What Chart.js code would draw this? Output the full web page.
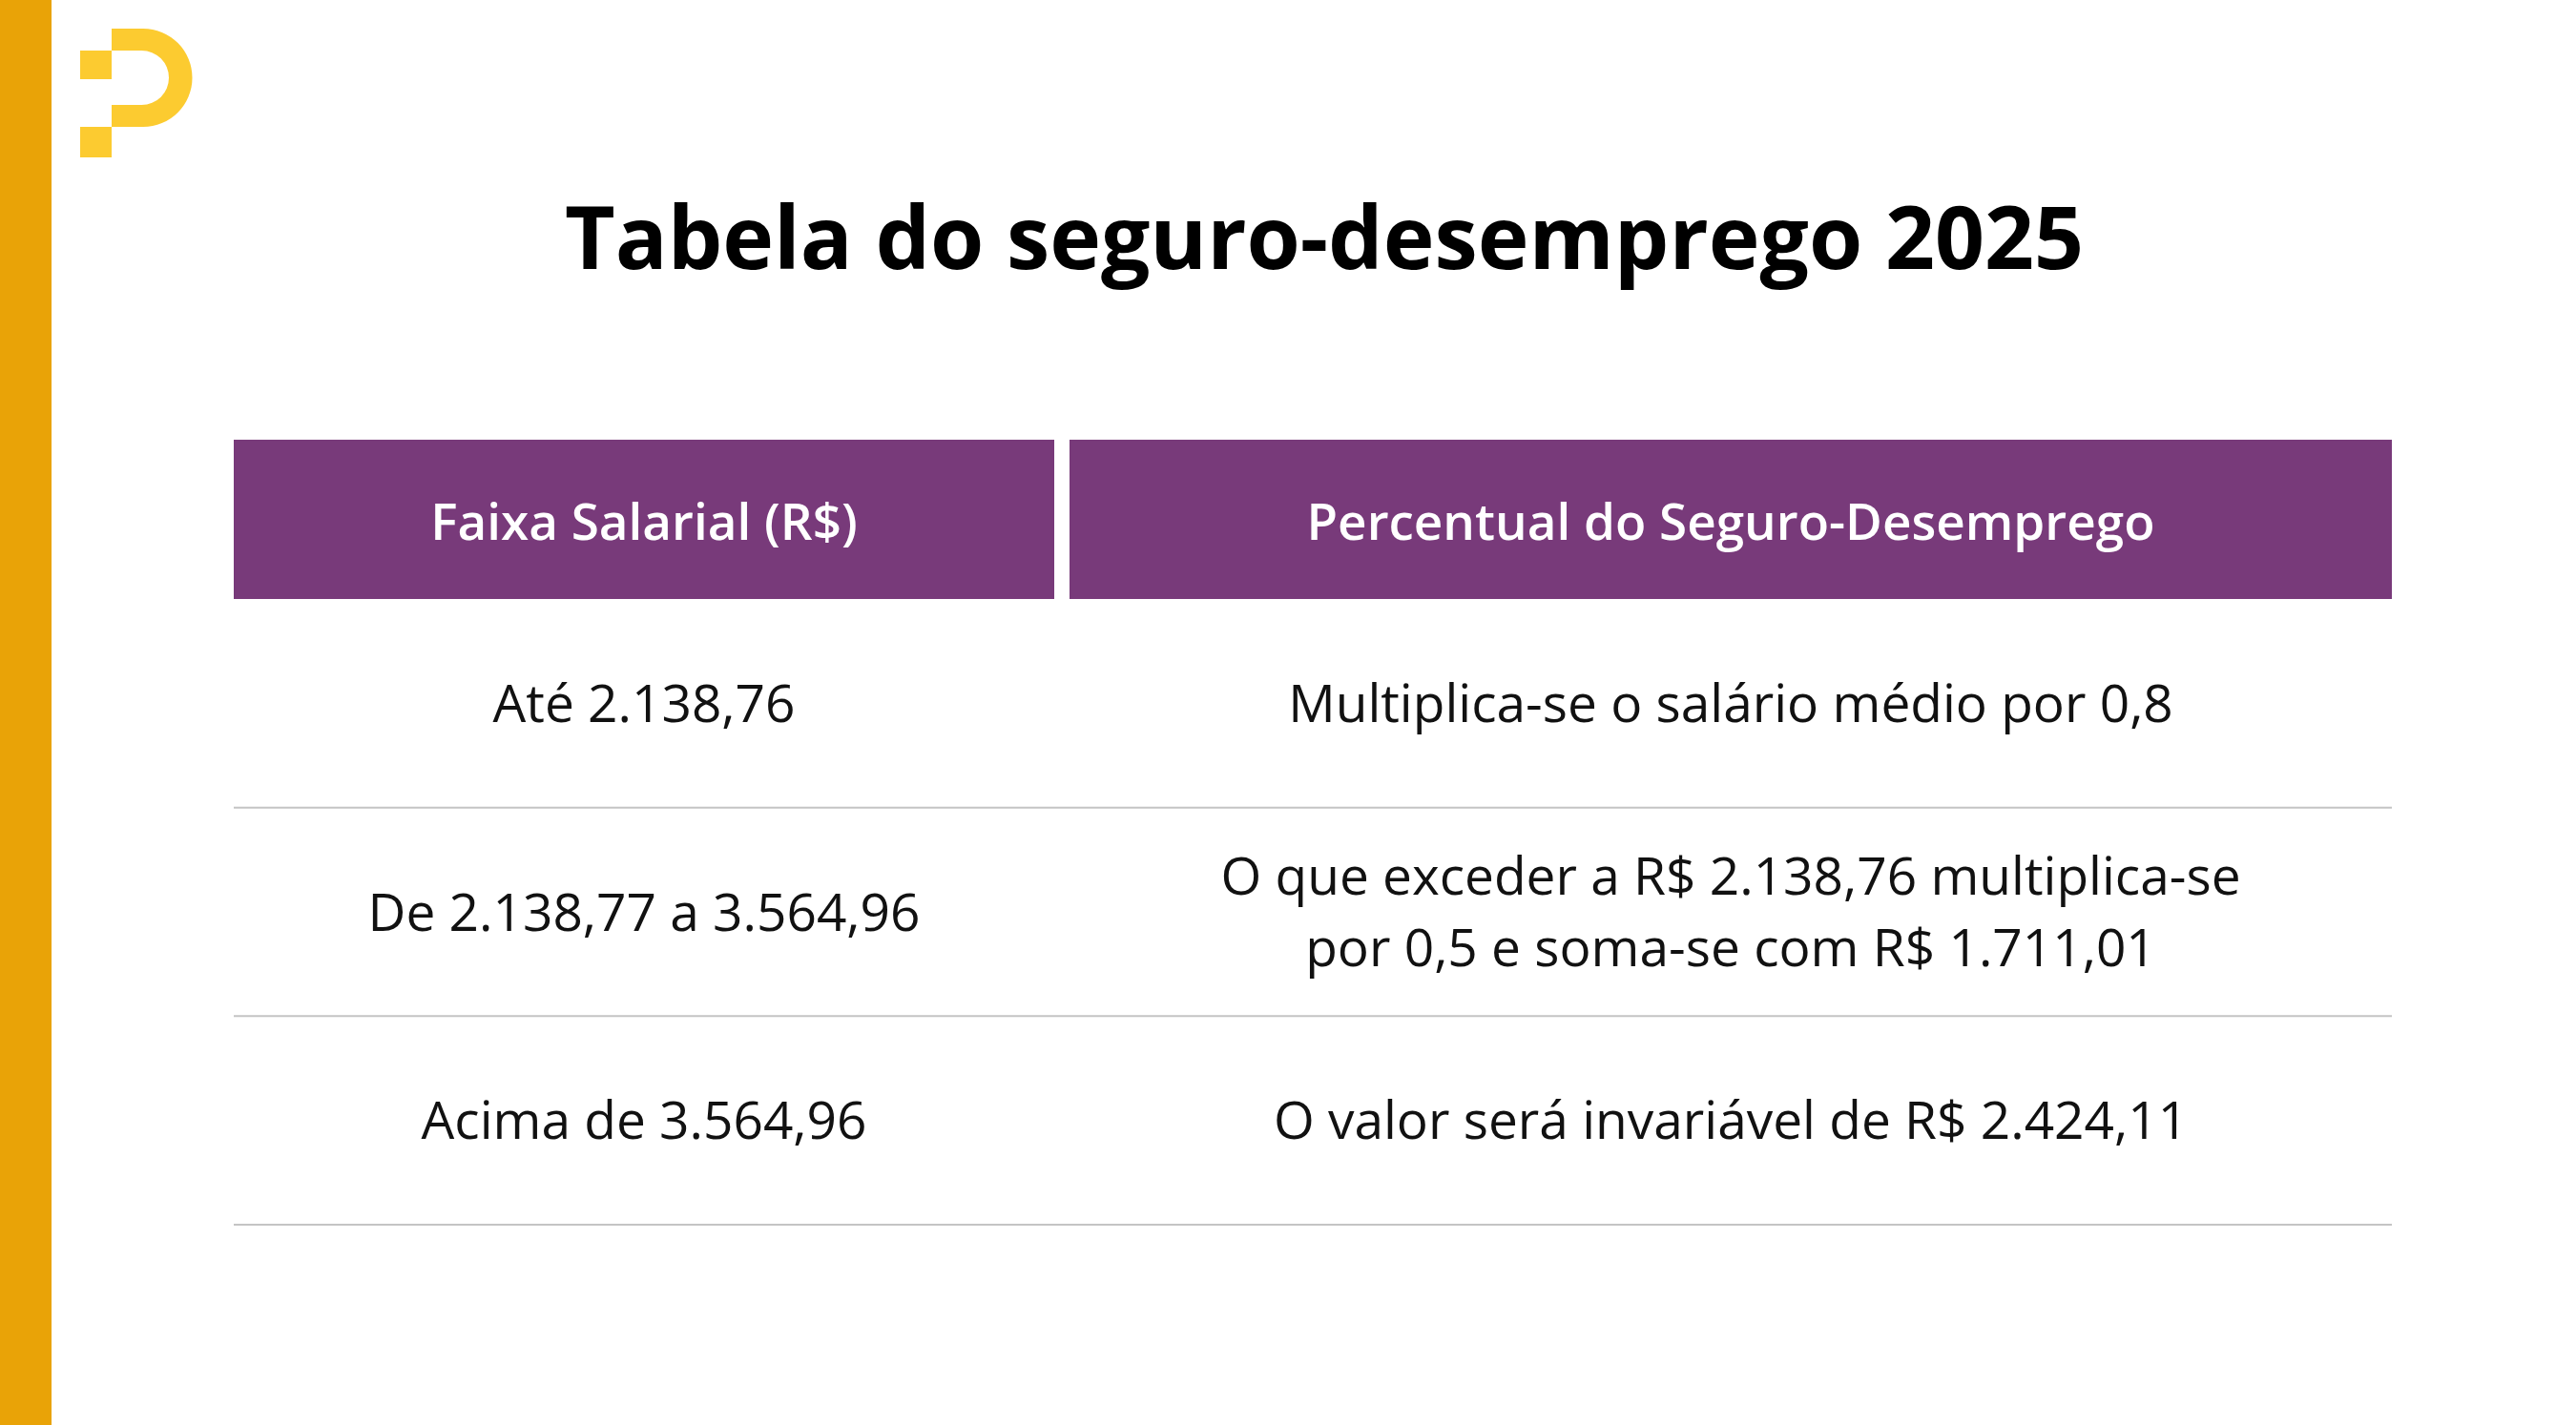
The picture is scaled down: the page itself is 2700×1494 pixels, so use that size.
<!DOCTYPE html>
<html><head><meta charset="utf-8">
<script src="https://cdn.jsdelivr.net/npm/chart.js@4"></script>
<style>html,body{margin:0;padding:0;background:#fff}canvas{display:block}</style>
</head><body>
<div style="width:2700px;height:1494px"><canvas id="c" width="2700" height="1494"></canvas></div>
<script>
const title = "Tabela do seguro-desemprego 2025";
const headers = ["Faixa Salarial (R$)", "Percentual do Seguro-Desemprego"];
const faixas = ["Até 2.138,76", "De 2.138,77 a 3.564,96", "Acima de 3.564,96"];
const percentuais = [
  ["Multiplica-se o salário médio por 0,8"],
  ["O que exceder a R$ 2.138,76 multiplica-se", "por 0,5 e soma-se com R$ 1.711,01"],
  ["O valor será invariável de R$ 2.424,11"]
];
const FONT = "'Open Sans', 'Noto Sans', sans-serif";

const tablePlugin = {
  id: 'tablePlugin',
  beforeDraw(chart) {
    const ctx = chart.ctx;
    ctx.save();
    ctx.fillStyle = '#fff';
    ctx.fillRect(0, 0, chart.width, chart.height);
    ctx.fillStyle = '#E9A307';
    ctx.fillRect(0, 0, 54, chart.height);
    ctx.fillStyle = '#FCCB30';
    ctx.fillRect(84, 53, 33, 30);
    ctx.fillRect(84, 133, 33, 32);
    ctx.beginPath();
    ctx.moveTo(117, 30); ctx.lineTo(150, 30);
    ctx.arc(150, 81.5, 51.5, -Math.PI/2, Math.PI/2);
    ctx.lineTo(117, 133); ctx.lineTo(117, 110); ctx.lineTo(148.5, 110);
    ctx.arc(148.5, 81.5, 28.5, Math.PI/2, -Math.PI/2, true);
    ctx.lineTo(117, 53); ctx.closePath(); ctx.fill();
    ctx.restore();
  },
  afterDraw(chart) {
    const ctx = chart.ctx, a = chart.chartArea, y = chart.scales.y;
    const colSplitL = 1105, colSplitR = 1121;
    const c1 = (a.left + colSplitL) / 2, c2 = (colSplitR + a.right) / 2;
    ctx.save();
    ctx.textAlign = 'center'; ctx.textBaseline = 'middle';
    ctx.fillStyle = '#000';
    ctx.font = `bold 91px ${FONT}`;
    ctx.fillText(title, 1388, 256);
    ctx.fillStyle = '#783A7A';
    ctx.fillRect(a.left, 461, colSplitL - a.left, a.top - 461);
    ctx.fillRect(colSplitR, 461, a.right - colSplitR, a.top - 461);
    ctx.fillStyle = '#fff';
    ctx.font = `600 53px ${FONT}`;
    ctx.fillText(headers[0], c1, 551);
    ctx.fillText(headers[1], c2, 551);
    ctx.font = `55px ${FONT}`;
    faixas.forEach((f, i) => {
      const cy = y.getPixelForValue(i) + 4;
      ctx.fillStyle = '#111';
      ctx.fillText(f, c1, cy);
      const lines = percentuais[i];
      lines.forEach((l, j) => ctx.fillText(l, c2, cy + (j - (lines.length - 1) / 2) * 75));
      const bottom = y.getPixelForValue(i) + (y.getPixelForValue(1) - y.getPixelForValue(0)) / 2;
      ctx.strokeStyle = '#c4c4c4'; ctx.lineWidth = 2;
      ctx.beginPath(); ctx.moveTo(a.left, bottom); ctx.lineTo(a.right, bottom); ctx.stroke();
    });
    ctx.restore();
  }
};

new Chart(document.getElementById('c'), {
  type: 'bar',
  data: { labels: faixas, datasets: [{ data: faixas.map(() => 0), backgroundColor: 'rgba(0,0,0,0)' }] },
  options: {
    responsive: false, animation: false, devicePixelRatio: 1, indexAxis: 'y',
    layout: { padding: { top: 628, bottom: 210, left: 245, right: 193 } },
    plugins: { legend: { display: false }, tooltip: { enabled: false } },
    scales: { x: { display: false, min: 0, max: 1 }, y: { display: false, offset: true } }
  },
  plugins: [tablePlugin]
});
</script>
</body></html>
